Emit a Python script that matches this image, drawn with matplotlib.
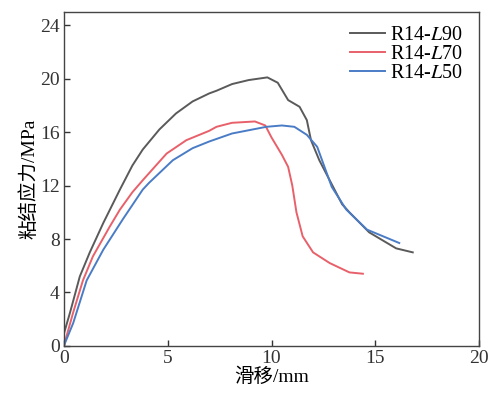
import matplotlib
matplotlib.use("Agg")
import matplotlib.pyplot as plt

# slip (mm) / bond stress (MPa)
x_l90 = [0, 0.3, 0.77, 1.25, 1.9, 2.7, 3.3, 3.8, 4.6, 5.4, 6.2, 7.0, 7.35, 8.1, 8.9, 9.8,
         10.3, 10.8, 11.35, 11.7, 11.9, 12.3, 12.8, 13.4, 13.75, 14.7, 16.0, 16.8]
y_l90 = [0.9, 2.5, 5.2, 7.0, 9.2, 11.7, 13.5, 14.7, 16.2, 17.4, 18.3, 18.9, 19.1, 19.6, 19.9, 20.1,
         19.7, 18.4, 17.9, 16.9, 15.4, 13.9, 12.4, 10.6, 10.0, 8.5, 7.3, 7.0]

x_l70 = [0, 0.45, 0.92, 1.4, 2.2, 2.7, 3.3, 3.8, 4.95, 5.9, 7.0, 7.35, 8.1, 9.2, 9.7, 10.0,
         10.5, 10.8, 11.0, 11.2, 11.5, 12.0, 12.8, 13.75, 14.4]
y_l70 = [0, 2.5, 4.9, 6.7, 8.9, 10.2, 11.5, 12.4, 14.4, 15.4, 16.1, 16.4, 16.7, 16.8, 16.5, 15.6,
         14.3, 13.4, 12.0, 10.0, 8.2, 7.0, 6.2, 5.5, 5.4]

x_l50 = [0, 0.45, 1.1, 1.9, 2.85, 3.8, 4.1, 5.25, 6.2, 7.0, 8.1, 9.75, 10.5, 11.1, 11.7,
         12.2, 12.55, 12.9, 13.6, 14.6, 16.15]
y_l50 = [0, 1.7, 4.9, 7.2, 9.5, 11.7, 12.2, 13.9, 14.8, 15.3, 15.9, 16.4, 16.5, 16.4, 15.8,
         14.9, 13.4, 11.9, 10.2, 8.7, 7.7]

labels = ["R14-$\\mathit{L}$90", "R14-$\\mathit{L}$70", "R14-$\\mathit{L}$50"]
colors = ["#5a5a5a", "#e8606a", "#4a7cc6"]

plt.rcParams["font.family"] = ["Liberation Serif", "Noto Sans CJK SC"]
plt.rcParams["mathtext.fontset"] = "stix"
plt.rcParams["font.size"] = 14

fig = plt.figure(figsize=(4.91, 3.98), dpi=100)
ax = fig.add_axes([0.130, 0.131, 0.846, 0.839])

ax.plot(x_l90, y_l90, color=colors[0], lw=1.4, label=labels[0])
ax.plot(x_l70, y_l70, color=colors[1], lw=1.4, label=labels[1])
ax.plot(x_l50, y_l50, color=colors[2], lw=1.4, label=labels[2])

ax.set_xlim(0, 20)
ax.set_ylim(0, 25)
ax.set_xticks([0, 5, 10, 15, 20])
ax.set_yticks([0, 4, 8, 12, 16, 20, 24])
ax.tick_params(direction="in", length=4, width=1, colors="#333333", labelsize=14, pad=3)
for s in ax.spines.values():
    s.set_color("#444444")
    s.set_linewidth(1)

ax.set_xlabel("滑移/mm", fontsize=14, labelpad=0)
ax.set_ylabel("粘结应力/MPa", fontsize=14, labelpad=1)

ax.legend(loc="upper right", frameon=False, fontsize=14.5, handlelength=1.75,
          labelspacing=0.0, handletextpad=0.25, borderaxespad=0.3,
          bbox_to_anchor=(0.995, 1.0))

fig.savefig("out.png")
